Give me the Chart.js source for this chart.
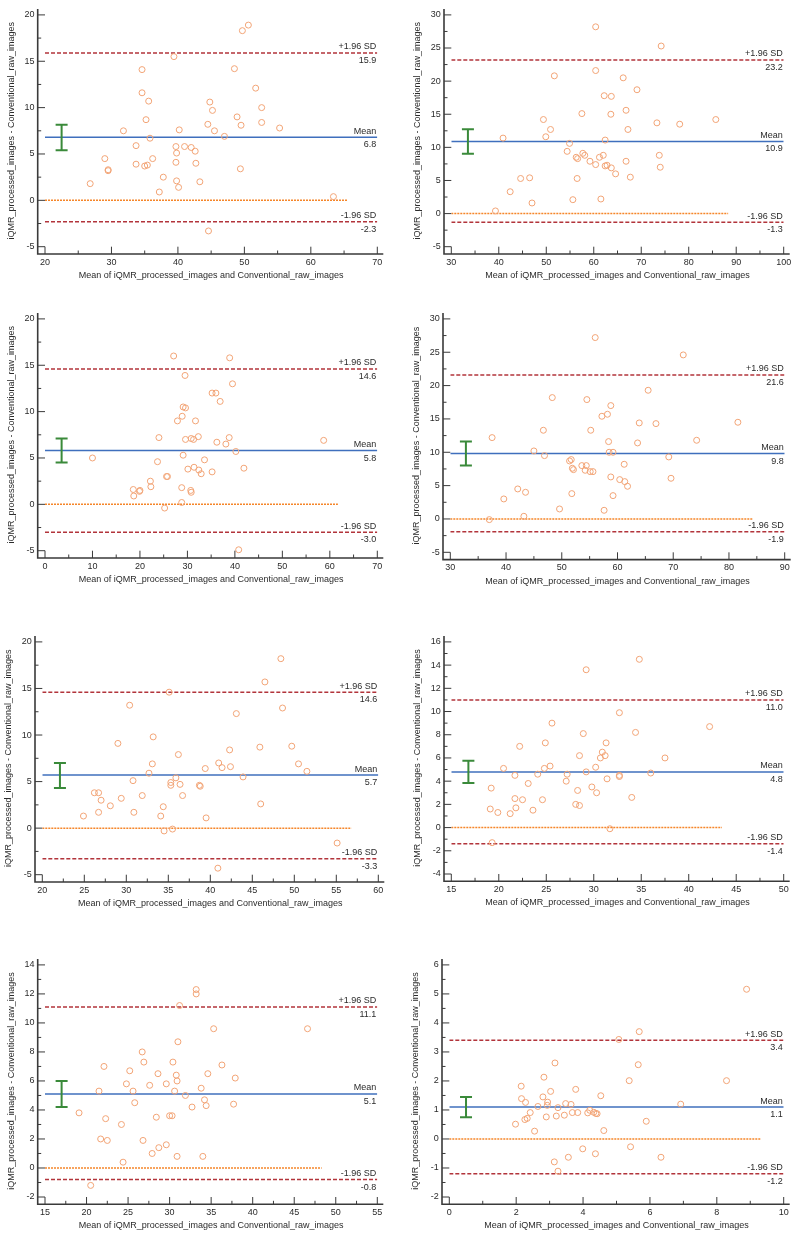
<!DOCTYPE html>
<html>
<head>
<meta charset="utf-8">
<title>Bland-Altman plots</title>
<script src="https://cdn.jsdelivr.net/npm/chart.js@4/dist/chart.umd.min.js"></script>
<style>
    body { margin: 0; background: #ffffff; width: 795px; height: 1233px; position: relative; overflow: hidden; }
    canvas { position: absolute; }
</style>
</head>
<body>
<div id="wrap"></div>
<script>
// ---- data (left to right, top to bottom) ----
var p1X = [50.6, 49.7, 39.4, 34.6, 48.5, 51.7, 34.6, 35.6, 44.8, 45.2, 52.6, 35.2, 48.9, 44.5, 52.6, 49.5, 55.3, 31.8, 40.2, 45.5, 47.0, 35.8, 33.7, 39.7, 41.0, 42.0, 42.6, 39.8, 29.0, 36.2, 29.5, 29.5, 33.7, 35.0, 35.4, 39.7, 42.7, 49.4, 37.8, 39.8, 43.3, 26.8, 40.1, 37.2, 63.4, 44.6];
var p1Y = [18.9, 18.3, 15.5, 14.1, 14.2, 12.1, 11.6, 10.7, 10.6, 9.7, 10.0, 8.7, 9.0, 8.2, 8.4, 8.1, 7.8, 7.5, 7.6, 7.5, 6.9, 6.7, 5.9, 5.8, 5.8, 5.7, 5.3, 5.1, 4.5, 4.5, 3.3, 3.2, 3.9, 3.7, 3.8, 4.1, 4.0, 3.4, 2.5, 2.1, 2.0, 1.8, 1.4, 0.9, 0.4, -3.3];

var p2X = [60.4, 74.2, 60.4, 51.7, 66.2, 69.1, 62.2, 63.7, 57.5, 63.6, 66.8, 49.4, 73.3, 78.1, 85.7, 50.9, 67.2, 40.9, 49.9, 62.4, 54.9, 54.4, 57.7, 58.1, 56.3, 56.6, 61.2, 62.0, 73.8, 59.2, 66.8, 60.4, 62.4, 62.8, 63.7, 74.0, 64.6, 44.6, 46.5, 56.5, 67.7, 42.4, 47.0, 55.6, 61.5, 39.3];
var p2Y = [28.2, 25.3, 21.6, 20.8, 20.5, 18.7, 17.8, 17.7, 15.1, 15.0, 15.6, 14.2, 13.7, 13.5, 14.2, 12.7, 12.7, 11.4, 11.6, 11.1, 10.6, 9.4, 9.1, 8.8, 8.5, 8.3, 8.5, 8.8, 8.8, 7.9, 7.9, 7.4, 7.2, 7.3, 6.9, 7.0, 6.0, 5.3, 5.4, 5.3, 5.5, 3.3, 1.6, 2.1, 2.2, 0.4];

var p3X = [27.1, 38.9, 29.5, 39.5, 35.2, 36.0, 36.9, 29.1, 29.6, 28.9, 27.9, 31.7, 24.0, 29.6, 30.8, 31.3, 32.3, 38.8, 36.2, 38.1, 58.7, 40.2, 10.0, 29.1, 23.7, 33.6, 30.1, 31.4, 32.4, 32.9, 35.2, 41.9, 25.8, 25.6, 22.2, 22.3, 28.8, 18.6, 19.9, 20.0, 30.7, 30.8, 18.7, 28.8, 25.2, 40.8];
var p3Y = [16.0, 15.8, 13.9, 13.0, 12.0, 12.0, 11.1, 10.5, 10.4, 9.5, 9.0, 9.0, 7.2, 7.0, 7.1, 7.0, 7.3, 7.2, 6.7, 6.5, 6.9, 5.7, 5.0, 5.3, 4.6, 4.8, 3.8, 4.0, 3.7, 3.3, 3.5, 3.9, 3.0, 3.0, 2.5, 1.9, 1.8, 1.6, 1.4, 1.5, 1.5, 1.3, 0.9, 0.2, -0.4, -4.9];

var p4X = [56.0, 71.8, 65.5, 48.3, 54.5, 58.8, 57.2, 58.2, 63.9, 66.9, 81.6, 46.7, 55.2, 37.5, 58.4, 63.6, 74.2, 45.0, 58.5, 59.2, 46.9, 69.2, 51.4, 51.7, 61.2, 51.9, 52.1, 53.6, 54.4, 54.2, 55.1, 55.6, 58.8, 69.6, 60.4, 61.3, 61.8, 42.1, 43.5, 51.8, 59.2, 39.6, 49.6, 57.6, 43.2, 37.0];
var p4Y = [27.2, 24.6, 19.3, 18.2, 17.9, 17.0, 15.4, 15.7, 14.4, 14.3, 14.5, 13.3, 13.3, 12.2, 11.6, 11.4, 11.8, 10.2, 10.0, 10.0, 9.5, 9.3, 8.7, 8.9, 8.2, 7.6, 7.4, 8.0, 8.0, 7.3, 7.1, 7.1, 6.3, 6.1, 5.9, 5.6, 4.9, 4.5, 4.0, 3.8, 3.5, 3.0, 1.5, 1.3, 0.4, -0.1];

var p5X = [48.4, 46.5, 35.1, 30.4, 48.6, 43.1, 29.0, 33.2, 49.7, 45.9, 42.3, 36.2, 33.1, 41.0, 41.4, 42.4, 50.5, 39.4, 51.5, 32.7, 35.9, 43.9, 30.8, 35.3, 35.3, 36.4, 38.7, 38.8, 26.2, 26.7, 27.0, 29.4, 31.9, 36.7, 28.1, 34.4, 46.0, 26.7, 30.9, 24.9, 34.1, 39.5, 34.5, 35.5, 55.1, 40.9];
var p5Y = [18.2, 15.7, 14.6, 13.2, 12.9, 12.3, 9.1, 9.8, 8.8, 8.7, 8.4, 7.9, 6.9, 7.0, 6.5, 6.6, 6.9, 6.4, 6.1, 5.9, 5.4, 5.5, 5.1, 4.9, 4.6, 4.7, 4.6, 4.5, 3.8, 3.8, 3.0, 3.2, 3.5, 3.5, 2.4, 2.3, 2.6, 1.7, 1.7, 1.3, 1.3, 1.1, -0.3, -0.1, -1.6, -4.3];

var p6X = [34.8, 29.2, 32.7, 25.6, 42.2, 28.9, 34.4, 24.9, 31.3, 22.2, 30.9, 28.5, 30.7, 31.2, 37.5, 20.5, 25.4, 24.8, 30.2, 29.2, 21.7, 24.1, 27.2, 32.7, 32.7, 31.4, 36.0, 27.1, 23.1, 19.2, 29.8, 28.3, 30.3, 34.0, 21.7, 22.5, 24.6, 28.1, 28.5, 21.8, 19.1, 19.9, 23.6, 21.2, 31.7, 19.3];
var p6Y = [14.5, 13.6, 9.9, 9.0, 8.7, 8.1, 8.2, 7.3, 7.3, 7.0, 6.5, 6.2, 6.0, 6.2, 6.0, 5.1, 5.3, 5.1, 5.2, 4.8, 4.5, 4.6, 4.6, 4.5, 4.4, 4.2, 4.7, 4.0, 3.8, 3.4, 3.5, 3.2, 3.0, 2.6, 2.5, 2.4, 2.4, 2.0, 1.9, 1.7, 1.6, 1.3, 1.5, 1.2, -0.1, -1.3];

var p7X = [33.2, 33.2, 31.2, 35.3, 46.6, 31.0, 26.7, 26.9, 30.4, 36.3, 22.1, 25.2, 28.6, 30.8, 34.6, 37.9, 30.9, 24.8, 27.6, 29.6, 33.8, 21.5, 25.6, 30.6, 31.9, 34.2, 25.8, 32.7, 34.4, 37.7, 19.1, 22.3, 28.4, 30.0, 30.3, 24.2, 21.7, 22.5, 26.8, 29.6, 28.7, 27.9, 30.9, 34.0, 24.4, 20.5];
var p7Y = [12.3, 12.0, 11.2, 9.6, 9.6, 8.7, 8.0, 7.3, 7.3, 7.1, 7.0, 6.7, 6.5, 6.4, 6.5, 6.2, 6.0, 5.8, 5.7, 5.8, 5.5, 5.3, 5.3, 5.3, 5.0, 4.7, 4.5, 4.2, 4.3, 4.4, 3.8, 3.4, 3.5, 3.6, 3.6, 3.0, 2.0, 1.9, 1.9, 1.6, 1.4, 1.0, 0.8, 0.8, 0.4, -1.2];

var p8X = [8.89, 5.68, 5.07, 5.65, 3.16, 2.83, 5.38, 8.29, 2.15, 3.78, 3.03, 4.53, 2.80, 2.16, 2.28, 2.94, 3.48, 3.64, 6.92, 2.65, 2.93, 3.25, 4.20, 2.42, 3.68, 3.84, 4.14, 4.32, 4.38, 4.42, 2.33, 2.26, 2.90, 3.20, 3.44, 5.89, 1.98, 2.55, 4.62, 3.99, 5.42, 3.56, 4.37, 6.33, 3.14, 3.25];
var p8Y = [5.16, 3.70, 3.43, 2.56, 2.62, 2.13, 2.01, 2.01, 1.82, 1.71, 1.64, 1.49, 1.45, 1.39, 1.26, 1.27, 1.22, 1.19, 1.20, 1.12, 1.16, 1.08, 0.99, 0.91, 0.91, 0.91, 0.90, 0.92, 0.88, 0.87, 0.71, 0.67, 0.76, 0.79, 0.82, 0.61, 0.51, 0.27, 0.29, -0.34, -0.27, -0.63, -0.51, -0.63, -0.79, -1.11];

// limits of agreement, mean difference and its 95% CI (one entry per panel)
var meanVals  = [6.8, 10.9, 5.8, 9.8, 5.7, 4.8, 5.1, 1.1];
var upperVals = [15.9, 23.2, 14.6, 21.6, 14.6, 11.0, 11.1, 3.4];
var lowerVals = [-2.3, -1.3, -3.0, -1.9, -3.3, -1.4, -0.8, -1.2];
var ciX    = [22.5, 33.5, 3.5, 32.8, 22.1, 16.8, 17.0, 0.5];
var ciHigh = [8.15, 12.75, 7.1, 11.6, 7.0, 5.75, 6.0, 1.45];
var ciLow  = [5.4, 9.05, 4.5, 8.0, 4.3, 3.85, 4.2, 0.75];
var zeroEnd = [65.5, 88.3, 61.7, 84.3, 56.8, 43.5, 48.3, 9.33];

// tick labels
var xTicks1 = [20, 30, 40, 50, 60, 70];
var xTicks2 = [30, 40, 50, 60, 70, 80, 90, 100];
var xTicks3 = [0, 10, 20, 30, 40, 50, 60, 70];
var xTicks4 = [30, 40, 50, 60, 70, 80, 90];
var xTicks5 = [20, 25, 30, 35, 40, 45, 50, 55, 60];
var xTicks6 = [15, 20, 25, 30, 35, 40, 45, 50];
var xTicks7 = [15, 20, 25, 30, 35, 40, 45, 50, 55];
var xTicks8 = [0, 2, 4, 6, 8, 10];
var yTicks1 = [-5, 0, 5, 10, 15, 20];
var yTicks2 = [-5, 0, 5, 10, 15, 20, 25, 30];
var yTicks3 = [-5, 0, 5, 10, 15, 20];
var yTicks4 = [-5, 0, 5, 10, 15, 20, 25, 30];
var yTicks5 = [-5, 0, 5, 10, 15, 20];
var yTicks6 = [-4, -2, 0, 2, 4, 6, 8, 10, 12, 14, 16];
var yTicks7 = [-2, 0, 2, 4, 6, 8, 10, 12, 14];
var yTicks8 = [-2, -1, 0, 1, 2, 3, 4, 5, 6];

var xTitle = 'Mean of iQMR_processed_images and Conventional_raw_images';
var yTitle = 'iQMR_processed_images - Conventional_raw_images';

// plot areas on the page: left, top, right, bottom (px)
var panelAreas = [
    [45, 9, 377.3, 246.7], [451.3, 9, 783.7, 246.7],
    [45, 313.3, 377.3, 550.7], [450.3, 313.3, 784.7, 552.3],
    [42.3, 636.7, 378.3, 874.7], [451.3, 636.7, 783.7, 874],
    [45, 959.7, 377.3, 1197], [449.3, 959.7, 783.7, 1197]
];

var panelX = [p1X, p2X, p3X, p4X, p5X, p6X, p7X, p8X];
var panelY = [p1Y, p2Y, p3Y, p4Y, p5Y, p6Y, p7Y, p8Y];
var panelXTicks = [xTicks1, xTicks2, xTicks3, xTicks4, xTicks5, xTicks6, xTicks7, xTicks8];
var panelYTicks = [yTicks1, yTicks2, yTicks3, yTicks4, yTicks5, yTicks6, yTicks7, yTicks8];

var FONT = '"Liberation Sans", Arial, sans-serif';
var TEXT = '#2b2b2b';
var AXIS = '#3a3a3a';
var GAP = 7.3;   // axis lines sit a little outside the plot area

Chart.defaults.font.family = FONT;
Chart.defaults.font.size = 9;
Chart.defaults.color = TEXT;

function midpoints(ticks) {
    var out = [];
    for (var i = 0; i < ticks.length - 1; i++) {
        out.push((ticks[i] + ticks[i + 1]) / 2);
    }
    return out;
}

// limit labels, detached axes and inward tick marks
var blandAltmanPlugin = {
    id: 'blandAltman',
    afterDatasetsDraw: function (chart, args, opts) {
        var ctx = chart.ctx, area = chart.chartArea, ys = chart.scales.y;
        var rows = [[opts.upper, '+1.96 SD'], [opts.mean, 'Mean'], [opts.lower, '-1.96 SD']];
        ctx.save();
        ctx.font = '9px ' + FONT;
        ctx.fillStyle = TEXT;
        ctx.textAlign = 'right';
        rows.forEach(function (row) {
            var y = ys.getPixelForValue(row[0]);
            ctx.textBaseline = 'bottom';
            ctx.fillText(row[1], area.right - 1, y - 1.5);
            ctx.textBaseline = 'top';
            ctx.fillText(row[0].toFixed(1), area.right - 1, y + 3);
        });
        ctx.restore();
    },
    afterDraw: function (chart, args, opts) {
        var ctx = chart.ctx, a = chart.chartArea, xs = chart.scales.x, ys = chart.scales.y;
        var ax = a.left - GAP, ay = a.bottom + GAP;
        ctx.save();
        ctx.strokeStyle = AXIS;
        ctx.lineWidth = 1;
        ctx.beginPath();
        xs.ticks.forEach(function (t) {
            var px = xs.getPixelForValue(t.value);
            ctx.moveTo(px, ay); ctx.lineTo(px, ay - GAP);
        });
        opts.minorX.forEach(function (v) {
            var px = xs.getPixelForValue(v);
            ctx.moveTo(px, ay); ctx.lineTo(px, ay - 3.5);
        });
        ys.ticks.forEach(function (t) {
            var py = ys.getPixelForValue(t.value);
            ctx.moveTo(ax, py); ctx.lineTo(ax + GAP, py);
        });
        opts.minorY.forEach(function (v) {
            var py = ys.getPixelForValue(v);
            ctx.moveTo(ax, py); ctx.lineTo(ax + 3.5, py);
        });
        ctx.stroke();
        ctx.lineWidth = 1.6;
        ctx.beginPath();
        ctx.moveTo(ax, a.top - 6);
        ctx.lineTo(ax, ay);
        ctx.lineTo(a.right + 6, ay);
        ctx.stroke();
        ctx.restore();
    }
};

function hLine(x0, x1, y) {
    return [{ x: x0, y: y }, { x: x1, y: y }];
}

function buildPanel(i) {
    var area = panelAreas[i];
    var xt = panelXTicks[i], yt = panelYTicks[i];
    var xMin = xt[0], xMax = xt[xt.length - 1];

    var cL = Math.floor(area[0] - 45);
    var cT = Math.floor(area[1] - 10);
    var W = Math.ceil(area[2] + 20) - cL;
    var H = Math.round(area[3] + 38.4) - cT;
    var xScaleH = H - (area[3] - cT);

    var canvas = document.createElement('canvas');
    canvas.width = W;
    canvas.height = H;
    canvas.style.left = cL + 'px';
    canvas.style.top = cT + 'px';
    canvas.style.width = W + 'px';
    canvas.style.height = H + 'px';
    document.getElementById('wrap').appendChild(canvas);

    var points = panelX[i].map(function (x, k) { return { x: x, y: panelY[i][k] }; });

    return new Chart(canvas, {
        type: 'scatter',
        data: {
            datasets: [
                {
                    data: points,
                    pointStyle: 'circle',
                    pointRadius: 3,
                    borderWidth: 1,
                    borderColor: '#f2a476',
                    backgroundColor: 'rgba(0,0,0,0)',
                    clip: false
                },
                {   // 95% CI of the mean difference
                    data: [{ x: ciX[i], y: ciLow[i] }, { x: ciX[i], y: ciHigh[i] }],
                    showLine: true,
                    borderColor: '#3a8a3a',
                    borderWidth: 2,
                    pointStyle: 'line',
                    pointRadius: 6,
                    pointBorderWidth: 2,
                    pointBorderColor: '#3a8a3a'
                },
                {
                    data: hLine(xMin, xMax, meanVals[i]),
                    showLine: true, pointRadius: 0,
                    borderColor: '#3f6fbd', borderWidth: 1.5
                },
                {
                    data: hLine(xMin, xMax, upperVals[i]),
                    showLine: true, pointRadius: 0,
                    borderColor: '#b2343b', borderWidth: 1.5, borderDash: [4, 2]
                },
                {
                    data: hLine(xMin, xMax, lowerVals[i]),
                    showLine: true, pointRadius: 0,
                    borderColor: '#b2343b', borderWidth: 1.5, borderDash: [4, 2]
                },
                {
                    data: hLine(xMin, zeroEnd[i], 0),
                    showLine: true, pointRadius: 0,
                    borderColor: '#f5862a', borderWidth: 1.5, borderDash: [2, 1]
                }
            ]
        },
        options: {
            responsive: false,
            animation: false,
            devicePixelRatio: 1,
            events: [],
            layout: {
                autoPadding: false,
                padding: {
                    left: area[0] - 45 - cL,
                    top: area[1] - cT,
                    right: cL + W - area[2],
                    bottom: 0
                }
            },
            plugins: {
                legend: { display: false },
                tooltip: { enabled: false },
                blandAltman: {
                    mean: meanVals[i], upper: upperVals[i], lower: lowerVals[i],
                    minorX: midpoints(xt), minorY: midpoints(yt)
                }
            },
            scales: {
                x: {
                    type: 'linear',
                    position: 'bottom',
                    min: xMin,
                    max: xMax,
                    afterBuildTicks: function (scale) {
                        scale.ticks = xt.map(function (v) { return { value: v }; });
                    },
                    afterFit: function (scale) { scale.height = xScaleH; },
                    grid: { display: false, drawTicks: false },
                    border: { display: false },
                    ticks: {
                        padding: 10,
                        maxRotation: 0,
                        autoSkip: false,
                        color: TEXT,
                        font: { size: 9 },
                        callback: function (v) { return String(v); }
                    },
                    title: {
                        display: true,
                        text: xTitle,
                        color: TEXT,
                        font: { size: 9 },
                        padding: { top: 4, bottom: 4 }
                    }
                },
                y: {
                    type: 'linear',
                    position: 'left',
                    min: yt[0],
                    max: yt[yt.length - 1],
                    afterBuildTicks: function (scale) {
                        scale.ticks = yt.map(function (v) { return { value: v }; });
                    },
                    afterFit: function (scale) { scale.width = 45; },
                    grid: { display: false, drawTicks: false },
                    border: { display: false },
                    ticks: {
                        padding: 10.5,
                        autoSkip: false,
                        color: TEXT,
                        font: { size: 9 },
                        callback: function (v) { return String(v); }
                    },
                    title: {
                        display: true,
                        text: yTitle,
                        color: TEXT,
                        font: { size: 9 },
                        padding: { top: 6, bottom: 4 }
                    }
                }
            }
        },
        plugins: [blandAltmanPlugin]
    });
}

for (var i = 0; i < 8; i++) {
    buildPanel(i);
}
</script>
</body>
</html>
